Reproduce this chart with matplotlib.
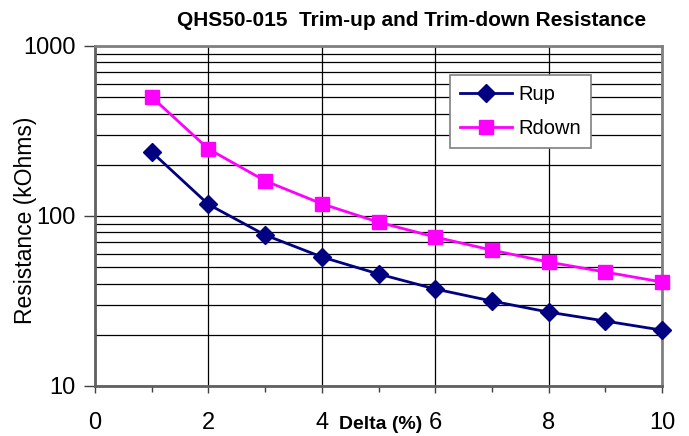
import matplotlib.pyplot as plt
import numpy as np
from matplotlib.ticker import FixedLocator, NullFormatter

plt.rcParams['font.family'] = ['Liberation Sans', 'DejaVu Sans']

delta = np.array([1, 2, 3, 4, 5, 6, 7, 8, 9, 10])
r_up = np.array([238, 117, 77.3, 57.4, 45.6, 37.2, 31.6, 27.2, 24.1, 21.3])
r_down = np.array([501, 248, 161, 118, 92, 75.2, 63, 53.6, 46.8, 40.9])

x_ticks = [0, 2, 4, 6, 8, 10]
y_ticks = [10, 100, 1000]

fig = plt.figure(figsize=(6.89, 4.36), dpi=100)
ax = fig.add_axes([0.1379, 0.1147, 0.8229, 0.7798])

ax.plot(delta, r_up, color='#000080', lw=2, marker='D', ms=9,
        label='Rup', zorder=3, clip_on=False)
ax.plot(delta, r_down, color='#FF00FF', lw=2, marker='s', ms=10,
        label='Rdown', zorder=3, clip_on=False)

ax.set_yscale('log')
ax.set_xlim(0, 10)
ax.set_ylim(10, 1000)

ax.xaxis.set_major_locator(FixedLocator(x_ticks))
ax.xaxis.set_minor_locator(FixedLocator([1, 3, 5, 7, 9]))
ax.set_xticklabels([str(v) for v in x_ticks])
ax.yaxis.set_major_locator(FixedLocator(y_ticks))
ax.set_yticklabels([str(v) for v in y_ticks])
ax.yaxis.set_minor_formatter(NullFormatter())

ax.tick_params(axis='x', which='major', direction='out', length=5, width=1,
               pad=14, labelsize=17, color='#404040')
ax.tick_params(axis='x', which='minor', direction='out', length=4, width=1,
               color='#404040')
ax.tick_params(axis='y', which='major', direction='out', length=8, width=1,
               pad=6, labelsize=17, color='#404040')
ax.tick_params(axis='y', which='minor', length=0)

ax.grid(True, which='major', axis='x', color='black', lw=0.9)
ax.grid(True, which='both', axis='y', color='black', lw=0.9)
ax.set_axisbelow(True)

for side in ['top', 'right']:
    ax.spines[side].set_color('#808080')
    ax.spines[side].set_linewidth(2)
for side in ['left', 'bottom']:
    ax.spines[side].set_color('#606060')
    ax.spines[side].set_linewidth(2)

fig.text(0.037, 0.495, 'Resistance (kOhms)', fontsize=16.5, rotation=90,
         ha='center', va='center')
fig.text(0.553, 0.027, 'Delta (%)', fontsize=14, fontweight='bold',
         ha='center', va='center')
fig.text(0.598, 0.954, 'QHS50-015  Trim-up and Trim-down Resistance',
         fontsize=15, fontweight='bold', ha='center', va='center')

leg = ax.legend(loc='upper left', bbox_to_anchor=(0.626, 0.915), fontsize=14.5,
                fancybox=False, framealpha=1, edgecolor='#808080',
                handlelength=2.6, borderpad=0.5, labelspacing=0.75,
                handletextpad=0.3, borderaxespad=0)
leg.get_frame().set_linewidth(1.2)

fig.savefig('out.png', dpi=100)
